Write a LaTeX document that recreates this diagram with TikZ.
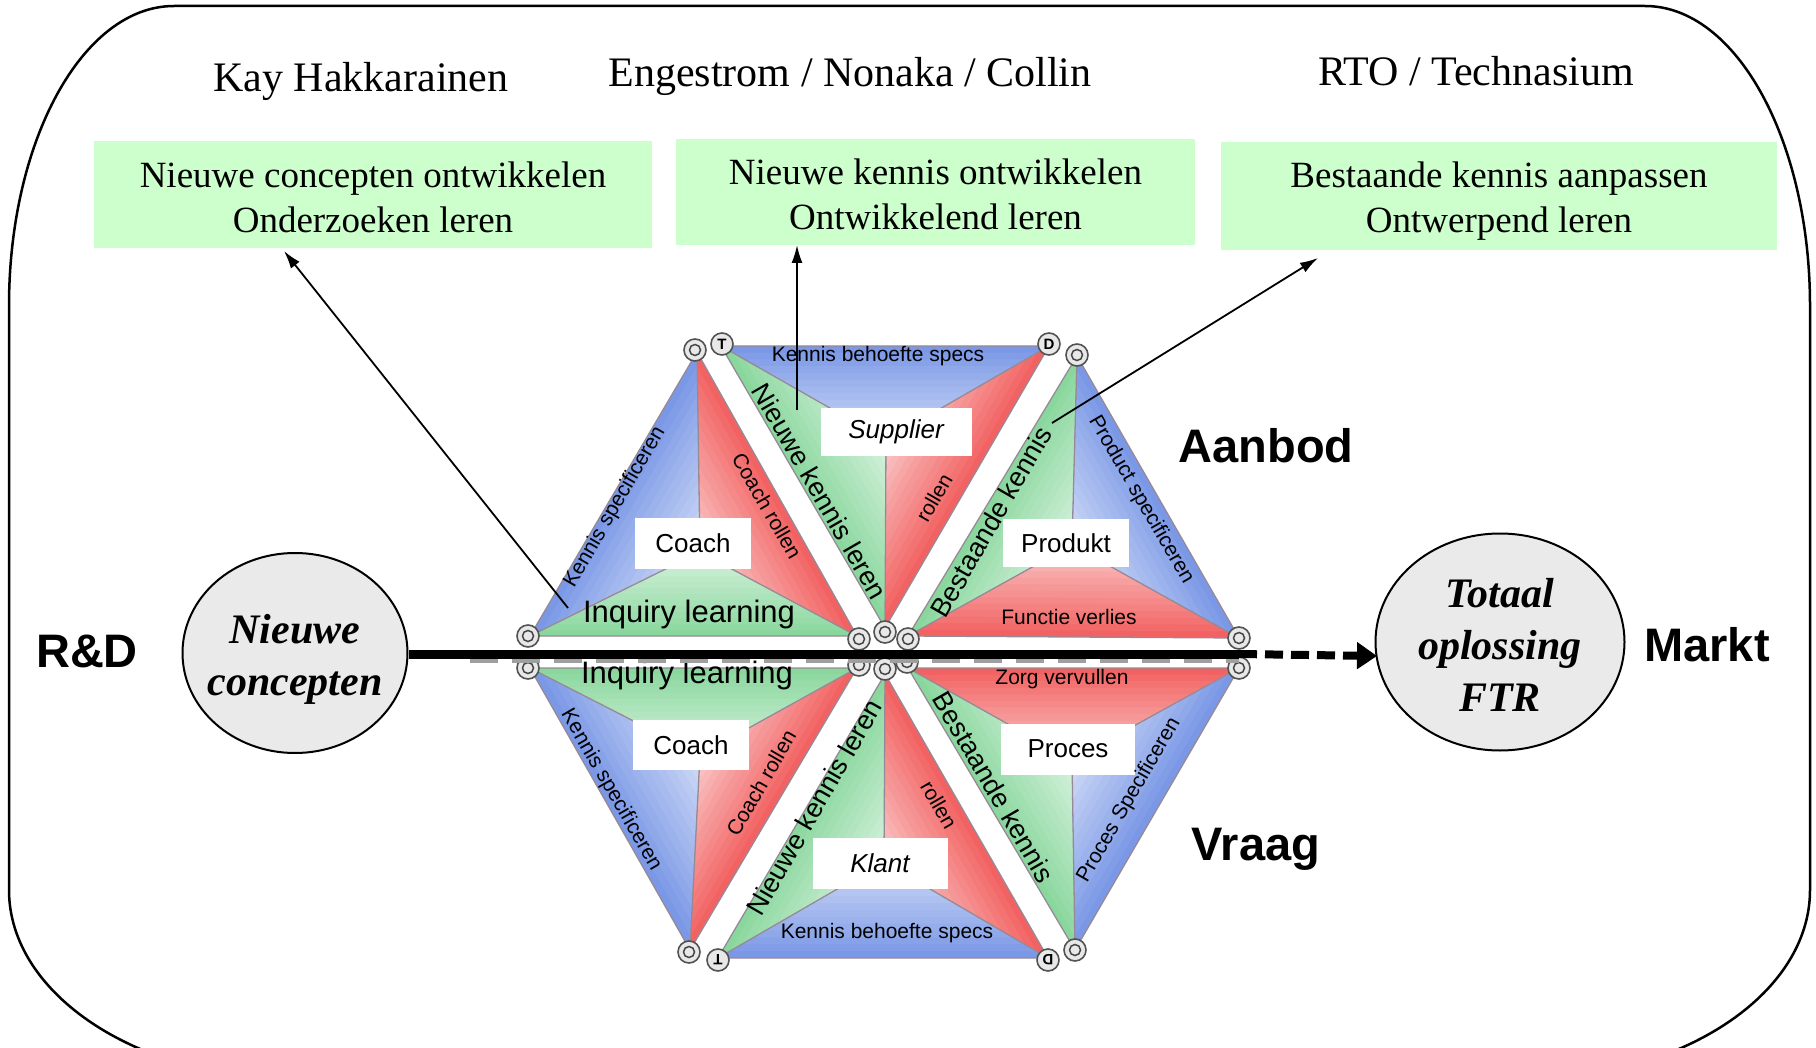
\documentclass[tikz,border=0pt]{standalone}
\usepackage{fontspec}
\setmainfont{Liberation Serif}
\setsansfont{Liberation Sans}
\usetikzlibrary{arrows.meta,calc,shapes.geometric}
\definecolor{hblue}{RGB}{122,152,230}
\definecolor{hred}{RGB}{242,98,98}
\definecolor{hgreen}{RGB}{138,215,158}
\definecolor{boxgreen}{RGB}{204,255,204}
\definecolor{ellgray}{RGB}{234,234,234}
\definecolor{edgegray}{RGB}{150,138,150}
\newcommand\fsz[2]{\fontsize{#1}{#2}\selectfont}
\newcommand\gtri[4]{%
  \foreach \k in {0,...,13}{%
    \pgfmathsetmacro\gradT{1-\k/14}%
    \pgfmathsetmacro\gradM{int(32+68*\gradT)}%
    \fill[#4!\gradM!white] ($(#3)!\gradT!(#1)$) -- ($(#3)!\gradT!(#2)$) -- (#3) -- cycle;
  }%
}
\newcommand\tribord[4]{\draw[subline] (#1)--(#2)--(#3)--cycle (#1)--(#4) (#2)--(#4) (#3)--(#4);}
\tikzset{
  subline/.style={draw=edgegray, line width=1.3pt, line join=round},
  gbox/.style={fill=boxgreen, inner sep=0pt, align=center, font=\fsz{37}{45}},
  title/.style={inner sep=0pt, font=\fsz{42}{42}},
  ell/.style={ellipse, draw=black, line width=2pt, fill=ellgray, inner sep=0pt},
  elltext/.style={inner sep=0pt, align=center, font=\bfseries\itshape\fsz{42}{52}},
  side/.style={inner sep=0pt, font=\sffamily\bfseries\fsz{47}{47}},
  lab/.style={inner sep=0pt, font=\sffamily\fsz{21}{21}},
  biglab/.style={inner sep=0pt, font=\sffamily\fsz{27}{27}},
  inq/.style={inner sep=0pt, font=\sffamily\fsz{31}{31}},
  wbox/.style={fill=white, inner sep=0pt, font=\sffamily\fsz{26}{26}},
  marker/.style={circle, draw=gray!65!black, fill=gray!18, line width=1.6pt, minimum size=22pt, inner sep=0pt, font=\sffamily\bfseries\fsz{15}{15}},
  thinarrow/.style={line width=1.8pt, -{Latex[length=18pt,width=11pt]}},
}
\begin{document}
\begin{tikzpicture}[x=1pt,y=-1pt]
\useasboundingbox (0,0) rectangle (1816,1048);
\clip (0,0) rectangle (1816,1048);
% frame
\draw[line width=2.5pt] (9,306) .. controls (9,140.3) and (82.9,6) .. (174,6)
  -- (1645,6) .. controls (1736.1,6) and (1810,140.3) .. (1810,306)
  -- (1810,890) .. controls (1810,994.9) and (1680.2,1080) .. (1520,1080)
  -- (299,1080) .. controls (138.8,1080) and (9,994.9) .. (9,890) -- cycle;

% titles
\node[title] (t1) at (361,81) {Kay Hakkarainen};
\node[title] (t2) at (850,76) {Engestrom / Nonaka / Collin};
\node[title] (t3) at (1476,71) {RTO / Technasium};

% green boxes
\node[gbox, minimum width=558pt, minimum height=107pt] (g1) at (373,194.5) {};
\node[gbox] (g1t) at (373,197.5) {Nieuwe concepten ontwikkelen\\Onderzoeken leren};
\node[gbox, minimum width=519pt, minimum height=106pt] (g2) at (935.5,192) {};
\node[gbox] (g2t) at (935.5,194.5) {Nieuwe kennis ontwikkelen\\Ontwikkelend leren};
\node[gbox, minimum width=556pt, minimum height=108pt] (g3) at (1499,196) {};
\node[gbox] (g3t) at (1499,201) {Bestaande kennis aanpassen\\Ontwerpend leren};

% hexagon coordinates
\coordinate (A1) at (530,636); \coordinate (B1) at (697,352); \coordinate (C1) at (857,636); \coordinate (I1) at (700,552);
\coordinate (T) at (721,346); \coordinate (D) at (1049,346); \coordinate (M) at (885,628); \coordinate (I2) at (886,440);
\coordinate (R1) at (1077,356); \coordinate (R2) at (908,636); \coordinate (R3) at (1239,638); \coordinate (I3) at (1072,545);
\coordinate (A2) at (530,668); \coordinate (B2) at (690,950); \coordinate (C2) at (857,668); \coordinate (J1) at (700,755);
\coordinate (M2) at (885,674); \coordinate (Tb) at (718,958); \coordinate (Db) at (1048,958); \coordinate (J2) at (884,862);
\coordinate (S1) at (908,668); \coordinate (S2) at (1239,668); \coordinate (S3) at (1075,950); \coordinate (J3) at (1072,760);

% top-left triangle
\gtri{A1}{B1}{I1}{hblue} \gtri{B1}{C1}{I1}{hred} \gtri{A1}{C1}{I1}{hgreen}
\tribord{A1}{B1}{C1}{I1}
% top-middle triangle
\gtri{T}{D}{I2}{hblue} \gtri{T}{M}{I2}{hgreen} \gtri{D}{M}{I2}{hred}
\tribord{T}{D}{M}{I2}
% top-right triangle
\gtri{R1}{R2}{I3}{hgreen} \gtri{R1}{R3}{I3}{hblue} \gtri{R2}{R3}{I3}{hred}
\tribord{R1}{R2}{R3}{I3}
% bottom-left triangle
\gtri{A2}{B2}{J1}{hblue} \gtri{B2}{C2}{J1}{hred} \gtri{A2}{C2}{J1}{hgreen}
\tribord{A2}{B2}{C2}{J1}
% bottom-middle triangle
\gtri{Tb}{Db}{J2}{hblue} \gtri{M2}{Tb}{J2}{hgreen} \gtri{M2}{Db}{J2}{hred}
\tribord{M2}{Tb}{Db}{J2}
% bottom-right triangle
\gtri{S1}{S3}{J3}{hgreen} \gtri{S2}{S3}{J3}{hblue} \gtri{S1}{S2}{J3}{hred}
\tribord{S1}{S2}{S3}{J3}

% white label boxes
\node[wbox, minimum width=116pt, minimum height=51pt] (coach1) at (693,543) {Coach};
\node[wbox, minimum width=151pt, minimum height=48pt] (supp) at (896,432) {\itshape Supplier};
\node[wbox, minimum width=126pt, minimum height=48pt] (prod) at (1066,543) {Produkt};
\node[wbox, minimum width=116pt, minimum height=50pt] (coach2) at (691,745) {Coach};
\node[wbox, minimum width=135pt, minimum height=51pt] (klant) at (880,863) {\itshape Klant};
\node[wbox, minimum width=134pt, minimum height=51pt] (proc) at (1068,749) {Proces};

% edge labels top
\node[lab] (l1) at (878,356) {Kennis behoefte specs};
\node[lab, rotate=60] (l2) at (615,507) {Kennis specificeren};
\node[lab, rotate=-60] (l3) at (767,506) {Coach rollen};
\node[biglab, rotate=-60] (l4) at (820,491) {Nieuwe kennis leren};
\node[lab, rotate=60] (l5) at (934,498) {rollen};
\node[biglab, rotate=60] (l6) at (991,522) {Bestaande kennis};
\node[lab, rotate=-60] (l7) at (1141,500) {Product specificeren};
\node[inq] (l8) at (689,614) {Inquiry learning};
\node[lab] (l9) at (1069,617) {Functie verlies};
% edge labels bottom
\node[inq] (m8) at (687,675) {Inquiry learning};
\node[lab] (m9) at (1062,679) {Zorg vervullen};
\node[lab, rotate=-60] (m2) at (611,790) {Kennis specificeren};
\node[lab, rotate=60] (m3) at (761,783) {Coach rollen};
\node[biglab, rotate=60] (m4) at (814,807) {Nieuwe kennis leren};
\node[lab, rotate=-60] (m5) at (939,805) {rollen};
\node[biglab, rotate=-60] (m6) at (994,787) {Bestaande kennis};
\node[lab, rotate=60] (m7) at (1129,800) {Proces Specificeren};
\node[lab] (m1) at (887,933) {Kennis behoefte specs};

% markers
\foreach \nm/\p in {k1/{(695,350)}, k2/{(1077,355)}, k3/{(528,636)}, k4/{(528,668)}, k5/{(1239,638)}, k6/{(1239,668)},
  k7/{(859,639)}, k8/{(885,632)}, k9/{(908,639)}, k10/{(859,665)}, k11/{(885,669)}, k12/{(907,662)},
  k13/{(689,952)}, k14/{(1075,950)}}{
  \node[marker] (\nm) at \p {};
  \draw[gray!55!black, line width=1.5pt] (\nm) circle (5.5pt);
}
\node[marker] (kT) at (722,344) {T};
\node[marker] (kD) at (1049,344) {D};
\node[marker, rotate=180] (kTb) at (718,960) {T};
\node[marker, rotate=180] (kDb) at (1048,960) {D};

% side labels
\node[side] (rd) at (87,651) {R\&D};
\node[side] (markt) at (1707,645) {Markt};
\node[side] (aanbod) at (1266,446) {Aanbod};
\node[side] (vraag) at (1256,849) {Vraag};

% ellipses
\node[ell, minimum width=225pt, minimum height=200pt] (e1) at (295,653) {};
\node[elltext] (e1t) at (295,659) {Nieuwe\\concepten};
\node[ell, minimum width=249pt, minimum height=217pt] (e2) at (1500,642) {};
\node[elltext] (e2t) at (1500,645) {Totaal\\oplossing\\FTR};

% axis
\coordinate (gs) at (470,660);
\coordinate (ge) at (1239,660);
\coordinate (hr) at (1239,654);
\coordinate (ax) at (1377,656);
\draw[gray!75, line width=5pt, dash pattern=on 28pt off 14pt] (gs) -- (ge);
\draw[line width=9pt] (e1.east |- hr) -- (hr);
\draw[line width=8pt, dash pattern=on 18pt off 8pt, -{Triangle[length=20pt,width=26pt]}] (hr) -- (ax);

% thin arrows
\coordinate (a1s) at (568,608); \coordinate (a1e) at (284,251);
\coordinate (a2s) at (797,410); \coordinate (a2e) at (797,245);
\coordinate (a3s) at (1052,423); \coordinate (a3e) at (1318,258);
\draw[thinarrow] (a1s) -- (a1e);
\draw[thinarrow] (a2s) -- (a2e);
\draw[thinarrow] (a3s) -- (a3e);
\end{tikzpicture}
\end{document}
